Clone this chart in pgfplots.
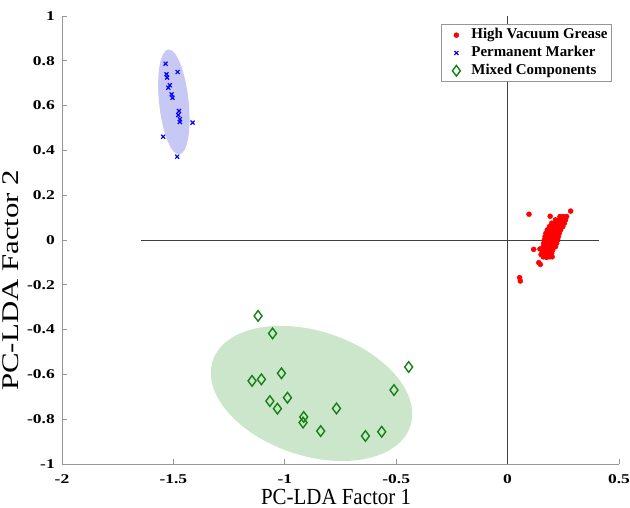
\documentclass[border=0pt]{standalone}
\usepackage{fontspec}
\setmainfont{Liberation Serif}
\usepackage{graphicx}
\usepackage{pgfplots}
\pgfplotsset{compat=1.18}

\definecolor{ellblue}{RGB}{200,200,245}
\definecolor{ellgreen}{RGB}{203,230,203}
\definecolor{mkgreen}{RGB}{20,130,20}
\definecolor{axgray}{RGB}{150,150,150}
\newcommand\tkl[1]{\scalebox{1.3}[1]{#1}}

\begin{document}
\begin{tikzpicture}
\path[use as bounding box] (-62bp,-44bp) rectangle (568bp,464bp);
\begin{axis}[
  width=557bp, height=448bp, scale only axis,
  xmin=-2, xmax=0.5, ymin=-1, ymax=1,
  axis x line*=bottom, axis y line*=left,
  axis line style={axgray, line width=0.8bp, -},
  tick style={axgray, line width=0.8bp},
  major tick length=5bp, tick align=inside,
  xtick={-2,-1.5,-1,-0.5,0,0.5},
  xticklabels={\tkl{-2},\tkl{-1.5},\tkl{-1},\tkl{-0.5},\tkl{0},\tkl{0.5}},
  ytick={-1,-0.8,-0.6,-0.4,-0.2,0,0.2,0.4,0.6,0.8,1},
  yticklabels={\tkl{-1},\tkl{-0.8},\tkl{-0.6},\tkl{-0.4},\tkl{-0.2},\tkl{0},\tkl{0.2},\tkl{0.4},\tkl{0.6},\tkl{0.8},\tkl{1}},
  tick label style={font=\fontsize{13.5}{14}\selectfont\bfseries, inner sep=0pt, text=black},
  xticklabel style={yshift=-10bp},
  yticklabel style={xshift=-7bp},
  xlabel={\scalebox{1}[1.1]{PC-LDA Factor 1}},
  xlabel style={font=\fontsize{21}{21}\selectfont, at={(axis description cs:0.492,0)}, anchor=base, yshift=-40bp, inner sep=0pt},
  ylabel={\scalebox{1.29}[1]{PC-LDA Factor 2}},
  ylabel style={font=\fontsize{24}{24}\selectfont, at={(axis description cs:-0.0785,0.41)}, anchor=base, inner sep=0pt},
  legend style={at={(0.987,0.982)}, anchor=north east, draw=axgray,
    font=\fontsize{15}{15}\selectfont\bfseries, inner sep=2bp, row sep=0pt,
    nodes={inner xsep=2bp, inner ysep=1.5bp, text height=11bp, text depth=3.8bp}},
  legend cell align=left,
  legend image code/.code={\path[draw=none,fill=none] (0bp,0bp) (26bp,0bp);
    \draw[mark repeat=2,mark phase=2,#1] plot coordinates {(0bp,0bp) (13bp,0bp) (26bp,0bp)};},
]
\fill[ellblue, rotate around={96:(axis cs:-1.498,0.616)}] (axis cs:-1.498,0.616) ellipse [x radius=0.237, y radius=0.066];
\fill[ellgreen, rotate around={-18.3:(axis cs:-0.88,-0.685)}] (axis cs:-0.88,-0.685) ellipse [x radius=0.467, y radius=0.278];

\addplot[forget plot, color=black!75, line width=0.8bp] coordinates {(-1.646,0) (0.408,0)};
\addplot[forget plot, color=black!75, line width=0.8bp] coordinates {(0,-1) (0,1)};

\addplot[only marks, mark=*, mark size=2.5bp, color=red] coordinates {
(0.096,0.115) (0.191,0.106) (0.283,0.129) (0.117,-0.042) (0.140,-0.101) (0.147,-0.109)
(0.054,-0.168) (0.057,-0.183) (0.145,-0.040) (0.150,-0.065)
(0.160,-0.075) (0.175,-0.078) (0.190,-0.075) (0.200,-0.075)
(0.155,-0.060) (0.170,-0.060) (0.185,-0.060) (0.198,-0.060)
(0.158,-0.045) (0.172,-0.045) (0.188,-0.045) (0.202,-0.045)
(0.160,-0.030) (0.175,-0.030) (0.190,-0.030) (0.205,-0.030) (0.215,-0.030)
(0.162,-0.015) (0.178,-0.015) (0.193,-0.015) (0.208,-0.015) (0.220,-0.015)
(0.165,0.000) (0.180,0.000) (0.195,0.000) (0.210,0.000) (0.225,0.000)
(0.168,0.015) (0.183,0.015) (0.198,0.015) (0.213,0.015) (0.228,0.015)
(0.172,0.030) (0.187,0.030) (0.202,0.030) (0.217,0.030) (0.232,0.030)
(0.178,0.045) (0.193,0.045) (0.208,0.045) (0.223,0.045) (0.238,0.045)
(0.188,0.060) (0.203,0.060) (0.218,0.060) (0.233,0.060) (0.248,0.060)
(0.198,0.075) (0.213,0.075) (0.228,0.075) (0.243,0.075) (0.255,0.075)
(0.215,0.090) (0.230,0.090) (0.245,0.090) (0.260,0.090)
(0.235,0.105) (0.250,0.105) (0.265,0.105)
};
\addlegendentry{High Vacuum Grease}

\addplot[only marks, mark=x, mark size=2.8bp, color=blue, mark options={line width=1.2bp}] coordinates {
(-1.535,0.787) (-1.481,0.750) (-1.531,0.740) (-1.528,0.725) (-1.516,0.691)
(-1.523,0.680) (-1.508,0.650) (-1.504,0.635) (-1.475,0.576) (-1.478,0.558)
(-1.471,0.539) (-1.471,0.527) (-1.414,0.524) (-1.546,0.461) (-1.483,0.372)
};
\addlegendentry{Permanent Marker}

\addplot[only marks, mark=diamond, mark size=5.3bp, color=mkgreen, mark options={line width=1.4bp, fill=none}] coordinates {
(-1.120,-0.339) (-1.055,-0.417) (-1.147,-0.629) (-1.105,-0.622) (-1.015,-0.595)
(-1.067,-0.719) (-1.033,-0.753) (-0.988,-0.704) (-0.915,-0.790) (-0.918,-0.815)
(-0.839,-0.853) (-0.768,-0.752) (-0.638,-0.875) (-0.565,-0.856) (-0.510,-0.670)
(-0.444,-0.567)
};
\addlegendentry{Mixed Components}
\end{axis}
\end{tikzpicture}
\end{document}
